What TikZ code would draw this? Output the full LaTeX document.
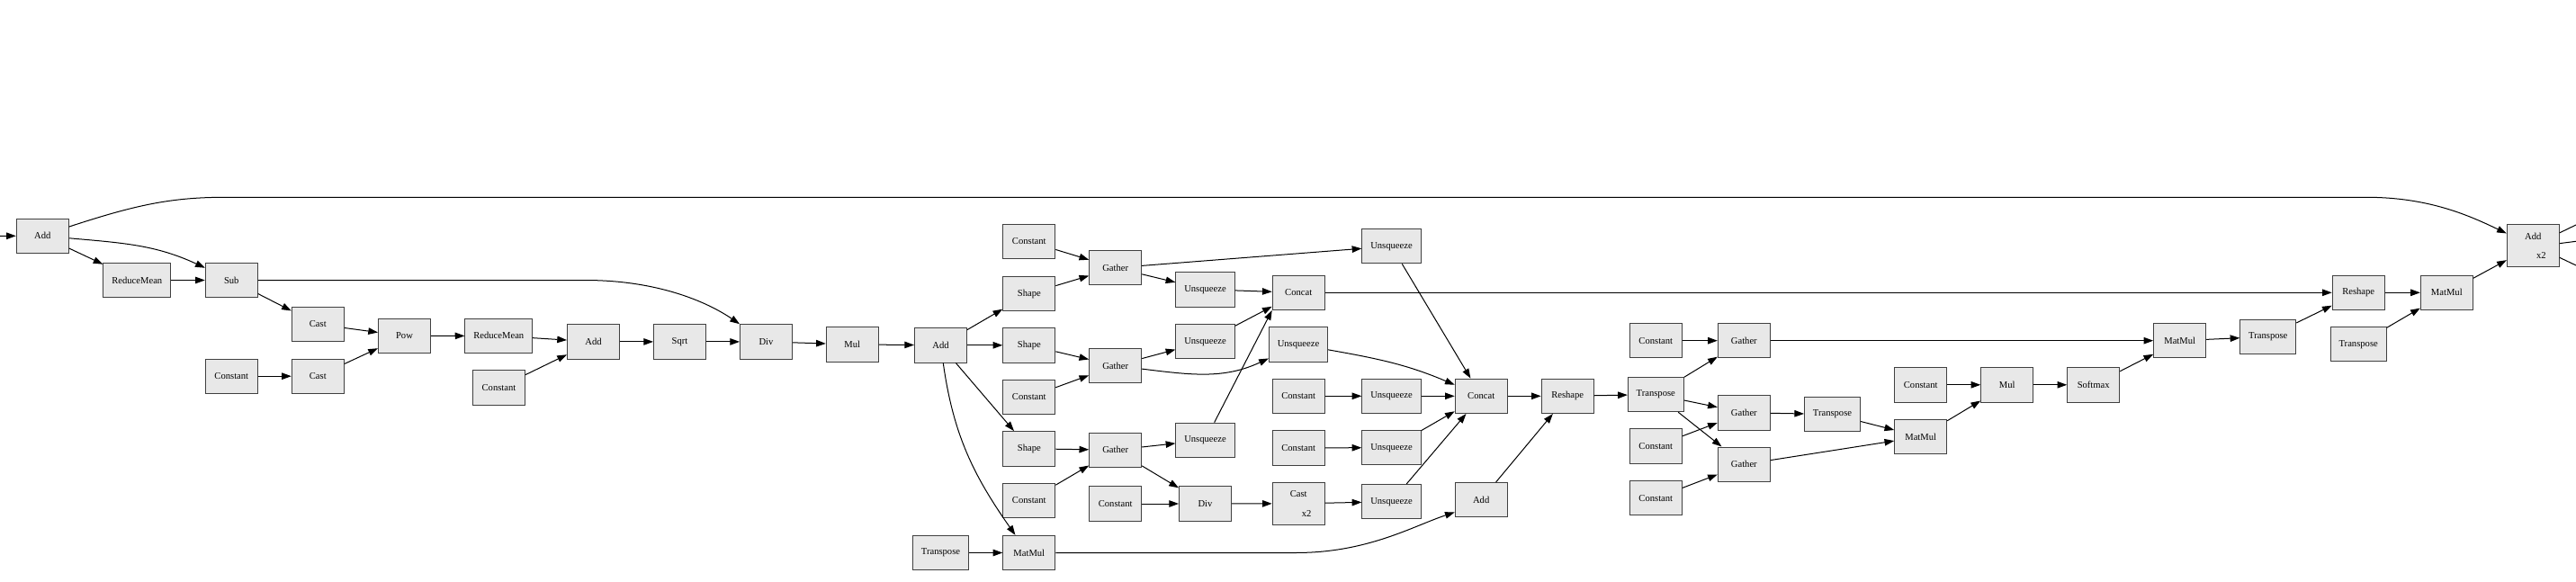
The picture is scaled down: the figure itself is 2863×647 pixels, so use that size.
\documentclass[tikz,border=0pt]{standalone}
\usepackage{fontspec}
\setmainfont{Liberation Serif}
\usepackage{tikz}
\usetikzlibrary{arrows.meta}

\begin{document}
\begin{tikzpicture}[->,>={Triangle[length=10.7pt,width=7.5pt]},x=1pt,y=-1pt,
                    line width=1pt]
  \tikzstyle{op}=[rectangle,draw=black!75,fill=black!9,minimum width=58pt,
                  minimum height=38.4pt,inner xsep=9.4pt,
                  font=\fontsize{10.6}{12.7}\selectfont]
  \useasboundingbox (0,0) rectangle (2863,647);

  % layer norm
  \coordinate (in0) at (0,262.3);
  \node[op] (add1)    at (47.3,262.2)  {Add};
  \node[op] (rmean1)  at (152.3,311.5) {ReduceMean};
  \node[op] (sub)     at (257.3,311.5) {Sub};
  \node[op] (cast1)   at (353.3,360.5) {Cast};
  \node[op] (const1)  at (257.3,418.2) {Constant};
  \node[op] (cast2)   at (353.3,418.2) {Cast};
  \node[op] (pow)     at (449.5,373.5) {Pow};
  \node[op] (rmean2)  at (554.3,373.3) {ReduceMean};
  \node[op] (const2)  at (554.5,431)   {Constant};
  \node[op] (add2)    at (659.5,379.9) {Add};
  \node[op] (sqrt)    at (755.5,379.9) {Sqrt};
  \node[op] (div1)    at (851.5,379.9) {Div};
  \node[op] (mul1)    at (947.3,382.9) {Mul};
  \node[op] (add3)    at (1045.5,383.8) {Add};

  % shapes
  \node[op] (const3)  at (1143.8,268.5) {Constant};
  \node[op] (shape1)  at (1143.8,326.5) {Shape};
  \node[op] (shape2)  at (1143.8,383.8) {Shape};
  \node[op] (const4)  at (1143.8,441.5) {Constant};
  \node[op] (shape3)  at (1143.8,498.8) {Shape};
  \node[op] (const5)  at (1143.8,556.5) {Constant};
  \node[op] (matmul1) at (1143.8,614.5) {MatMul};
  \node[op] (trans1)  at (1045.5,614.5) {Transpose};
  \node[op] (gather1) at (1239.7,297.7) {Gather};
  \node[op] (gather2) at (1239.7,406.5) {Gather};
  \node[op] (gather3) at (1239.7,500.2) {Gather};
  \node[op] (const6)  at (1239.7,560)   {Constant};
  \node[op] (unsq1)   at (1339.5,321.8) {Unsqueeze};
  \node[op] (unsq2)   at (1339.5,379.7) {Unsqueeze};
  \node[op] (unsq3)   at (1339.5,489.3) {Unsqueeze};
  \node[op] (div2)    at (1339.5,560)   {Div};
  \node[op] (concat1) at (1443.2,325.3) {Concat};
  \node[op] (unsq4)   at (1443,383)     {Unsqueeze};
  \node[op] (const7)  at (1443.2,440.3) {Constant};
  \node[op] (const8)  at (1443.2,497.8) {Constant};
  \node[op,minimum height=47pt,align=center] (cast3) at (1443.2,559.8)
       {Cast\\[9pt]\hspace*{18pt}x2};
  \node[op] (unsq0)   at (1546.5,273.7) {Unsqueeze};
  \node[op] (unsq5)   at (1546.5,440.3) {Unsqueeze};
  \node[op] (unsq6)   at (1546.5,497.7) {Unsqueeze};
  \node[op] (unsq7)   at (1546.5,557.7) {Unsqueeze};
  \node[op] (concat2) at (1646.2,440.3) {Concat};
  \node[op] (add4)    at (1646.2,555.7) {Add};
  \node[op] (reshape1) at (1742.2,440.3) {Reshape};

  % attention
  \node[op] (trans2)  at (1840.3,438.5) {Transpose};
  \node[op] (const9)  at (1840.3,378.7) {Constant};
  \node[op] (const10) at (1840.3,496)   {Constant};
  \node[op] (const11) at (1840.3,553.7) {Constant};
  \node[op] (gather4) at (1938.3,378.7) {Gather};
  \node[op] (gather5) at (1938.3,458.8) {Gather};
  \node[op] (gather6) at (1938.3,516.2) {Gather};
  \node[op] (trans3)  at (2036.5,460.5) {Transpose};
  \node[op] (const12) at (2134.7,427.8) {Constant};
  \node[op] (matmul2) at (2134.7,485.5) {MatMul};
  \node[op] (mul2)    at (2230.7,427.8) {Mul};
  \node[op] (softmax) at (2326.7,427.8) {Softmax};
  \node[op] (matmul3) at (2422.7,378.7) {MatMul};
  \node[op] (trans4)  at (2520.8,374.3) {Transpose};
  \node[op] (reshape2) at (2621.2,325.3) {Reshape};
  \node[op] (trans5)  at (2621.2,382.7) {Transpose};
  \node[op] (matmul4) at (2719.3,325.3) {MatMul};
  \node[op,minimum height=47pt,align=center] (add5) at (2815.3,273.2)
       {Add\\[9pt]\hspace*{18pt}x2};
  \coordinate (out1) at (2863,250);
  \coordinate (out2) at (2863,268.3);
  \coordinate (out3) at (2863,295);

  \path (in0) edge (add1)
        (add1) edge (rmean1)
               edge [out=-5,in=155] (sub)
        (rmean1) edge (sub)
        (sub) edge (cast1)
        (cast1) edge (pow)
        (const1) edge (cast2)
        (cast2) edge (pow)
        (pow) edge (rmean2)
        (rmean2) edge (add2)
        (const2) edge (add2)
        (add2) edge (sqrt)
        (sqrt) edge (div1)
        (div1) edge (mul1)
        (mul1) edge (add3);

  \path (add3) edge (shape1)
               edge (shape2)
               edge (shape3)
               edge [out=-82,in=125] (matmul1.128)
        (trans1) edge (matmul1)
        (const3) edge (gather1)
        (shape1) edge (gather1)
        (shape2) edge (gather2)
        (const4) edge (gather2)
        (shape3) edge (gather3)
        (const5) edge (gather3)
        (gather1) edge (unsq1)
                  edge (unsq0)
        (gather2) edge (unsq2)
                  edge [out=-7,in=205] (unsq4)
        (gather3) edge (unsq3)
                  edge (div2)
        (const6) edge (div2)
        (div2) edge (cast3)
        (unsq1) edge (concat1)
        (unsq2) edge (concat1)
        (unsq3) edge (concat1.south west)
        (unsq0) edge (concat2)
        (unsq4) edge [out=-10,in=157] (concat2)
        (const7) edge (unsq5)
        (const8) edge (unsq6)
        (cast3) edge (unsq7)
        (unsq5) edge (concat2)
        (unsq6) edge (concat2)
        (unsq7) edge (concat2)
        (concat2) edge (reshape1)
        (add4) edge (reshape1)
        (reshape1) edge (trans2)
        (concat1) edge (reshape2);

  \path (trans2) edge (gather4)
                 edge (gather5)
                 edge (gather6)
        (const9) edge (gather4)
        (const10) edge (gather5)
        (const11) edge (gather6)
        (gather4) edge (matmul3)
        (gather5) edge (trans3)
        (trans3) edge (matmul2)
        (gather6) edge (matmul2)
        (const12) edge (mul2)
        (matmul2) edge (mul2)
        (mul2) edge (softmax)
        (softmax) edge (matmul3)
        (matmul3) edge (trans4)
        (trans4) edge (reshape2)
        (reshape2) edge (matmul4)
        (trans5) edge (matmul4)
        (matmul4) edge (add5);

  % long ones
  \draw (sub) -- (650,311.5) .. controls (730,311.5) and (785,335) .. (div1.north west);
  \draw (matmul1) -- (1440,614.5) .. controls (1520,614.5) and (1570,585) .. (add4.205);
  \draw (add1.19) .. controls (150,228) and (190,219.3) .. (250,219.3)
        -- (2630,219.3) .. controls (2700,219.3) and (2745,240) .. (add5.155);
  \draw[-] (add5.26) -- (out1);
  \draw[-] (add5.5) -- (out2);
  \draw[-] (add5.-24) -- (out3);

\end{tikzpicture}
\end{document}
